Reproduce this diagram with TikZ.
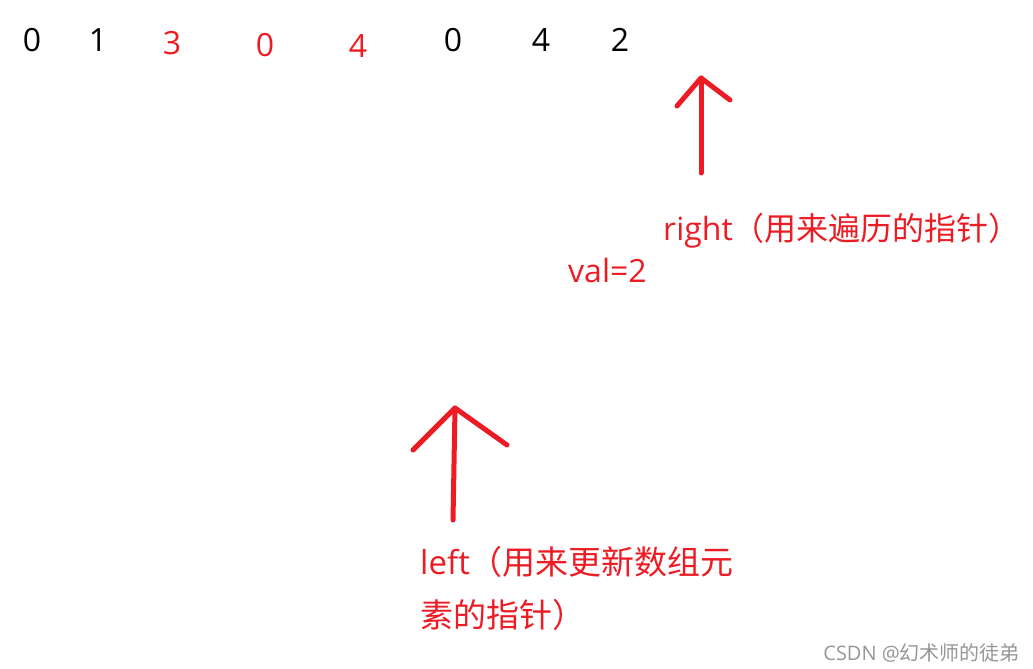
\documentclass[tikz,border=0pt]{standalone}
\usepackage{fontspec}
\setmainfont{Open Sans}
\newfontfamily\cjk{Noto Sans CJK SC}
\usetikzlibrary{positioning}
\definecolor{paintred}{RGB}{237,28,36}
\definecolor{markgray}{RGB}{150,150,150}

\begin{document}
\begin{tikzpicture}[x=1pt, y=-1pt, node distance=1cm,
  every node/.style={inner sep=0pt, font=\fontsize{32}{52}\selectfont},
  num/.style={anchor=center},
  hot/.style={text=paintred},
  pointer/.style={draw=paintred, line width=5pt, line cap=round, line join=round},
  note/.style={text=paintred, anchor=base west, align=left}]

        \useasboundingbox (0,0) rectangle (1033,669);

        % array
        \node[num] (a0) at (32,40) {0};
        \node[num] (a1) at (98,40) {1};
        \node[num, hot] (a2) at (172,43) {3};
        \node[num, hot] (a3) at (265,45) {0};
        \node[num, hot] (a4) at (358,46) {4};
        \node[num] (a5) at (453,40) {0};
        \node[num] (a6) at (541,40) {4};
        \node[num] (a7) at (620,40) {2};

        % right pointer
        \coordinate (rtip) at (701,78);
        \coordinate (rbase) at (701,173);
        \coordinate (rwingl) at (677,106);
        \coordinate (rwingr) at (730,100);
        \draw[pointer] (rbase) -- (rtip);
        \draw[pointer] (rwingl) -- (rtip) -- (rwingr);
        \node[note] (rlabel) at (663,240) {right\cjk （用来遍历的指针）};
        \node[note] (val) at (568,282) {val=2};

        % left pointer
        \coordinate (ltip) at (455,408);
        \coordinate (lbase) at (453,520);
        \coordinate (lwingl) at (413,450);
        \coordinate (lwingr) at (507,445);
        \draw[pointer] (lbase) -- (ltip);
        \draw[pointer] (lwingl) -- (ltip) -- (lwingr);
        \node[note, font=\fontsize{33}{53}\selectfont] (llabel) at (420,627)
          {left\cjk （用来更新数组元\\\cjk 素的指针）};

        % watermark
        \node[anchor=base east, text=markgray, font=\fontsize{20}{22}\selectfont] (mark) at (1020,660) {CSDN @\cjk 幻术师的徒弟};

\end{tikzpicture}
\end{document}
